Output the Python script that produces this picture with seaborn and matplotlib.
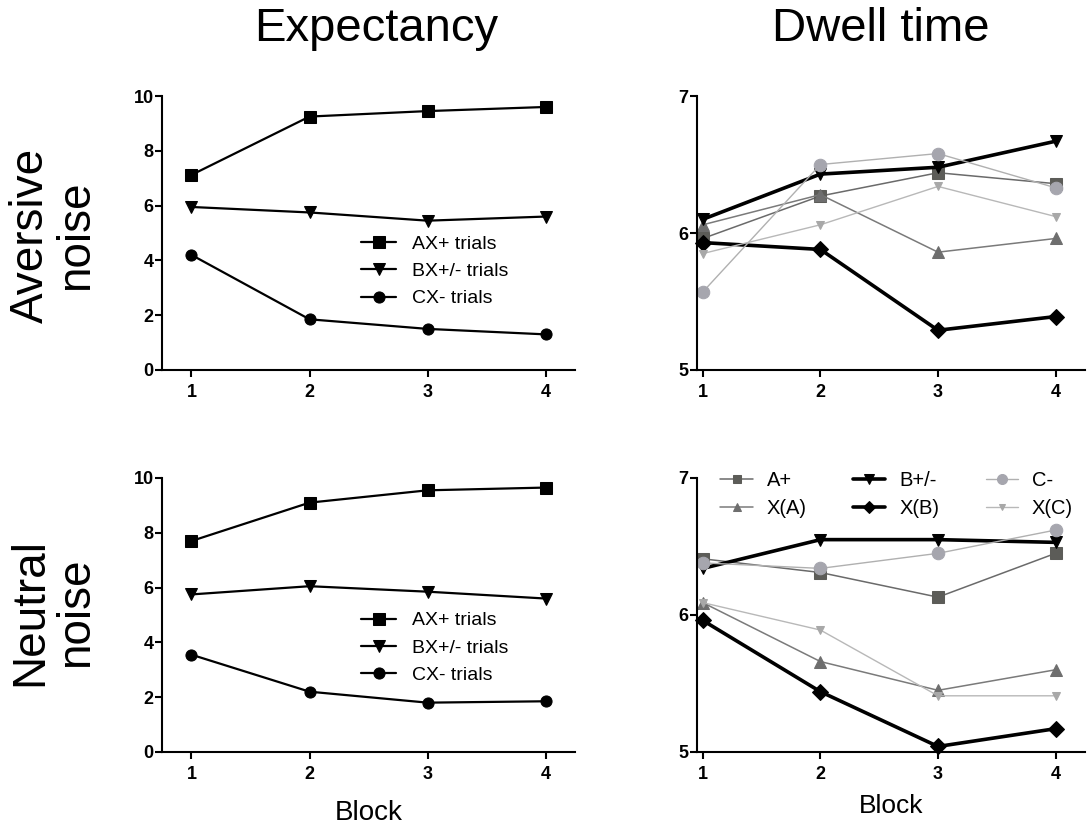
import numpy as np
import pandas as pd
import matplotlib
matplotlib.use("Agg")
import matplotlib.pyplot as plt
import seaborn as sns

#DATA
blocks = [1, 2, 3, 4]

# expectancy, aversive noise
exp_av_ax = [7.12, 9.25, 9.45, 9.6]
exp_av_bx = [5.95, 5.75, 5.45, 5.6]
exp_av_cx = [4.2, 1.85, 1.5, 1.3]

# expectancy, neutral noise
exp_ne_ax = [7.7, 9.1, 9.55, 9.65]
exp_ne_bx = [5.75, 6.05, 5.85, 5.6]
exp_ne_cx = [3.55, 2.2, 1.8, 1.85]

# dwell time, aversive noise
dw_av_a = [5.96, 6.27, 6.44, 6.36]
dw_av_xa = [6.06, 6.28, 5.86, 5.96]
dw_av_b = [6.10, 6.43, 6.48, 6.67]
dw_av_xb = [5.93, 5.88, 5.29, 5.39]
dw_av_c = [5.57, 6.50, 6.58, 6.33]
dw_av_xc = [5.85, 6.06, 6.34, 6.12]

# dwell time, neutral noise
dw_ne_a = [6.41, 6.31, 6.13, 6.45]
dw_ne_xa = [6.09, 5.66, 5.45, 5.60]
dw_ne_b = [6.34, 6.55, 6.55, 6.53]
dw_ne_xb = [5.96, 5.44, 5.04, 5.17]
dw_ne_c = [6.38, 6.34, 6.45, 6.62]
dw_ne_xc = [6.09, 5.89, 5.41, 5.41]

exp_labels = ['AX+ trials', 'BX+/- trials', 'CX- trials']
dw_labels = ['A+', 'X(A)', 'B+/-', 'X(B)', 'C-', 'X(C)']

#STYLE
sns.set_style("ticks")
plt.rcParams['font.family'] = ['Liberation Sans', 'DejaVu Sans']
plt.rcParams['axes.linewidth'] = 1.5
plt.rcParams['xtick.major.width'] = 1.5
plt.rcParams['ytick.major.width'] = 1.5
plt.rcParams['xtick.major.size'] = 5
plt.rcParams['ytick.major.size'] = 5
plt.rcParams['xtick.color'] = 'black'
plt.rcParams['ytick.color'] = 'black'
plt.rcParams['axes.edgecolor'] = 'black'
plt.rcParams['text.color'] = 'black'
plt.rcParams['axes.labelcolor'] = 'black'
plt.rcParams['legend.labelcolor'] = 'black'

fig = plt.figure(figsize=(10.9, 8.32), dpi=100)

ax_tl = fig.add_axes([0.1486, 0.5553, 0.379, 0.3293])
ax_tr = fig.add_axes([0.6394, 0.5553, 0.356, 0.3293])
ax_bl = fig.add_axes([0.1486, 0.0962, 0.379, 0.3293])
ax_br = fig.add_axes([0.6394, 0.0962, 0.356, 0.3293])

# (marker, size, color, linewidth)
exp_styles = [('s', 8, 'black', 1.6), ('v', 8, 'black', 1.6), ('o', 8, 'black', 1.6)]
dw_styles = [
    ('s', 8, '#5c5c58', '#6a6a6a', 1.1),
    ('^', 8, '#6e6e6e', '#7a7a7a', 1.1),
    ('v', 9, 'black', 'black', 2.6),
    ('D', 8, 'black', 'black', 2.6),
    ('o', 9, '#a6a6ae', '#b0b0b0', 1.0),
    ('v', 6, '#a8a8a8', '#b8b8b8', 1.0),
]


def draw_expectancy(ax, series):
    for vals, lab, (m, ms, c, lw) in zip(series, exp_labels, exp_styles):
        sns.lineplot(x=blocks, y=vals, ax=ax, color=c, marker=m, markersize=ms,
                     linewidth=lw, markeredgecolor=c, label=lab)
    ax.set_xlim(0.75, 4.25)
    ax.set_ylim(0, 10)
    ax.set_yticks([0, 2, 4, 6, 8, 10])


def draw_dwell(ax, series):
    for vals, lab, (m, ms, mc, lc, lw) in zip(series, dw_labels, dw_styles):
        sns.lineplot(x=blocks, y=vals, ax=ax, color=lc, marker=m, markersize=ms,
                     linewidth=lw, markerfacecolor=mc, markeredgecolor=mc, label=lab)
    ax.set_xlim(0.95, 4.25)
    ax.set_ylim(5, 7)
    ax.set_yticks([5, 6, 7])


draw_expectancy(ax_tl, [exp_av_ax, exp_av_bx, exp_av_cx])
draw_expectancy(ax_bl, [exp_ne_ax, exp_ne_bx, exp_ne_cx])
draw_dwell(ax_tr, [dw_av_a, dw_av_xa, dw_av_b, dw_av_xb, dw_av_c, dw_av_xc])
draw_dwell(ax_br, [dw_ne_a, dw_ne_xa, dw_ne_b, dw_ne_xb, dw_ne_c, dw_ne_xc])

for ax in [ax_tl, ax_tr, ax_bl, ax_br]:
    sns.despine(ax=ax)
    ax.set_xticks(blocks)
    for lab in ax.get_xticklabels() + ax.get_yticklabels():
        lab.set_fontweight('bold')
        lab.set_fontsize(13)
    ax.tick_params(axis='x', pad=5)
    ax.tick_params(axis='y', pad=1)
    for ln in ax.lines:
        ln.set_clip_on(False)

ax_tl.legend(loc='center', bbox_to_anchor=(0.66, 0.36), frameon=False, fontsize=14,
             handlelength=1.8, handletextpad=0.8, labelspacing=0.5)
ax_bl.legend(loc='center', bbox_to_anchor=(0.66, 0.38), frameon=False, fontsize=14,
             handlelength=1.8, handletextpad=0.8, labelspacing=0.5)
ax_tr.get_legend().remove()
ax_br.legend(loc='center', bbox_to_anchor=(0.515, 0.94), ncol=3, frameon=False,
             fontsize=14.5, handlelength=1.6, handletextpad=0.7, labelspacing=0.45,
             columnspacing=2.3, markerscale=0.8)

ax_bl.set_xlabel('Block', fontsize=20, labelpad=12)
ax_br.set_xlabel('Block', fontsize=19, labelpad=8)

fig.text(0.345, 0.965, 'Expectancy', fontsize=34, ha='center', va='center')
fig.text(0.808, 0.965, 'Dwell time', fontsize=34, ha='center', va='center')
fig.text(0.049, 0.717, 'Aversive\nnoise', fontsize=33, rotation=90, ha='center',
         va='center', multialignment='center', linespacing=1.05)
fig.text(0.049, 0.264, 'Neutral\nnoise', fontsize=33, rotation=90, ha='center',
         va='center', multialignment='center', linespacing=1.05)

fig.savefig('out.png', dpi=100)
